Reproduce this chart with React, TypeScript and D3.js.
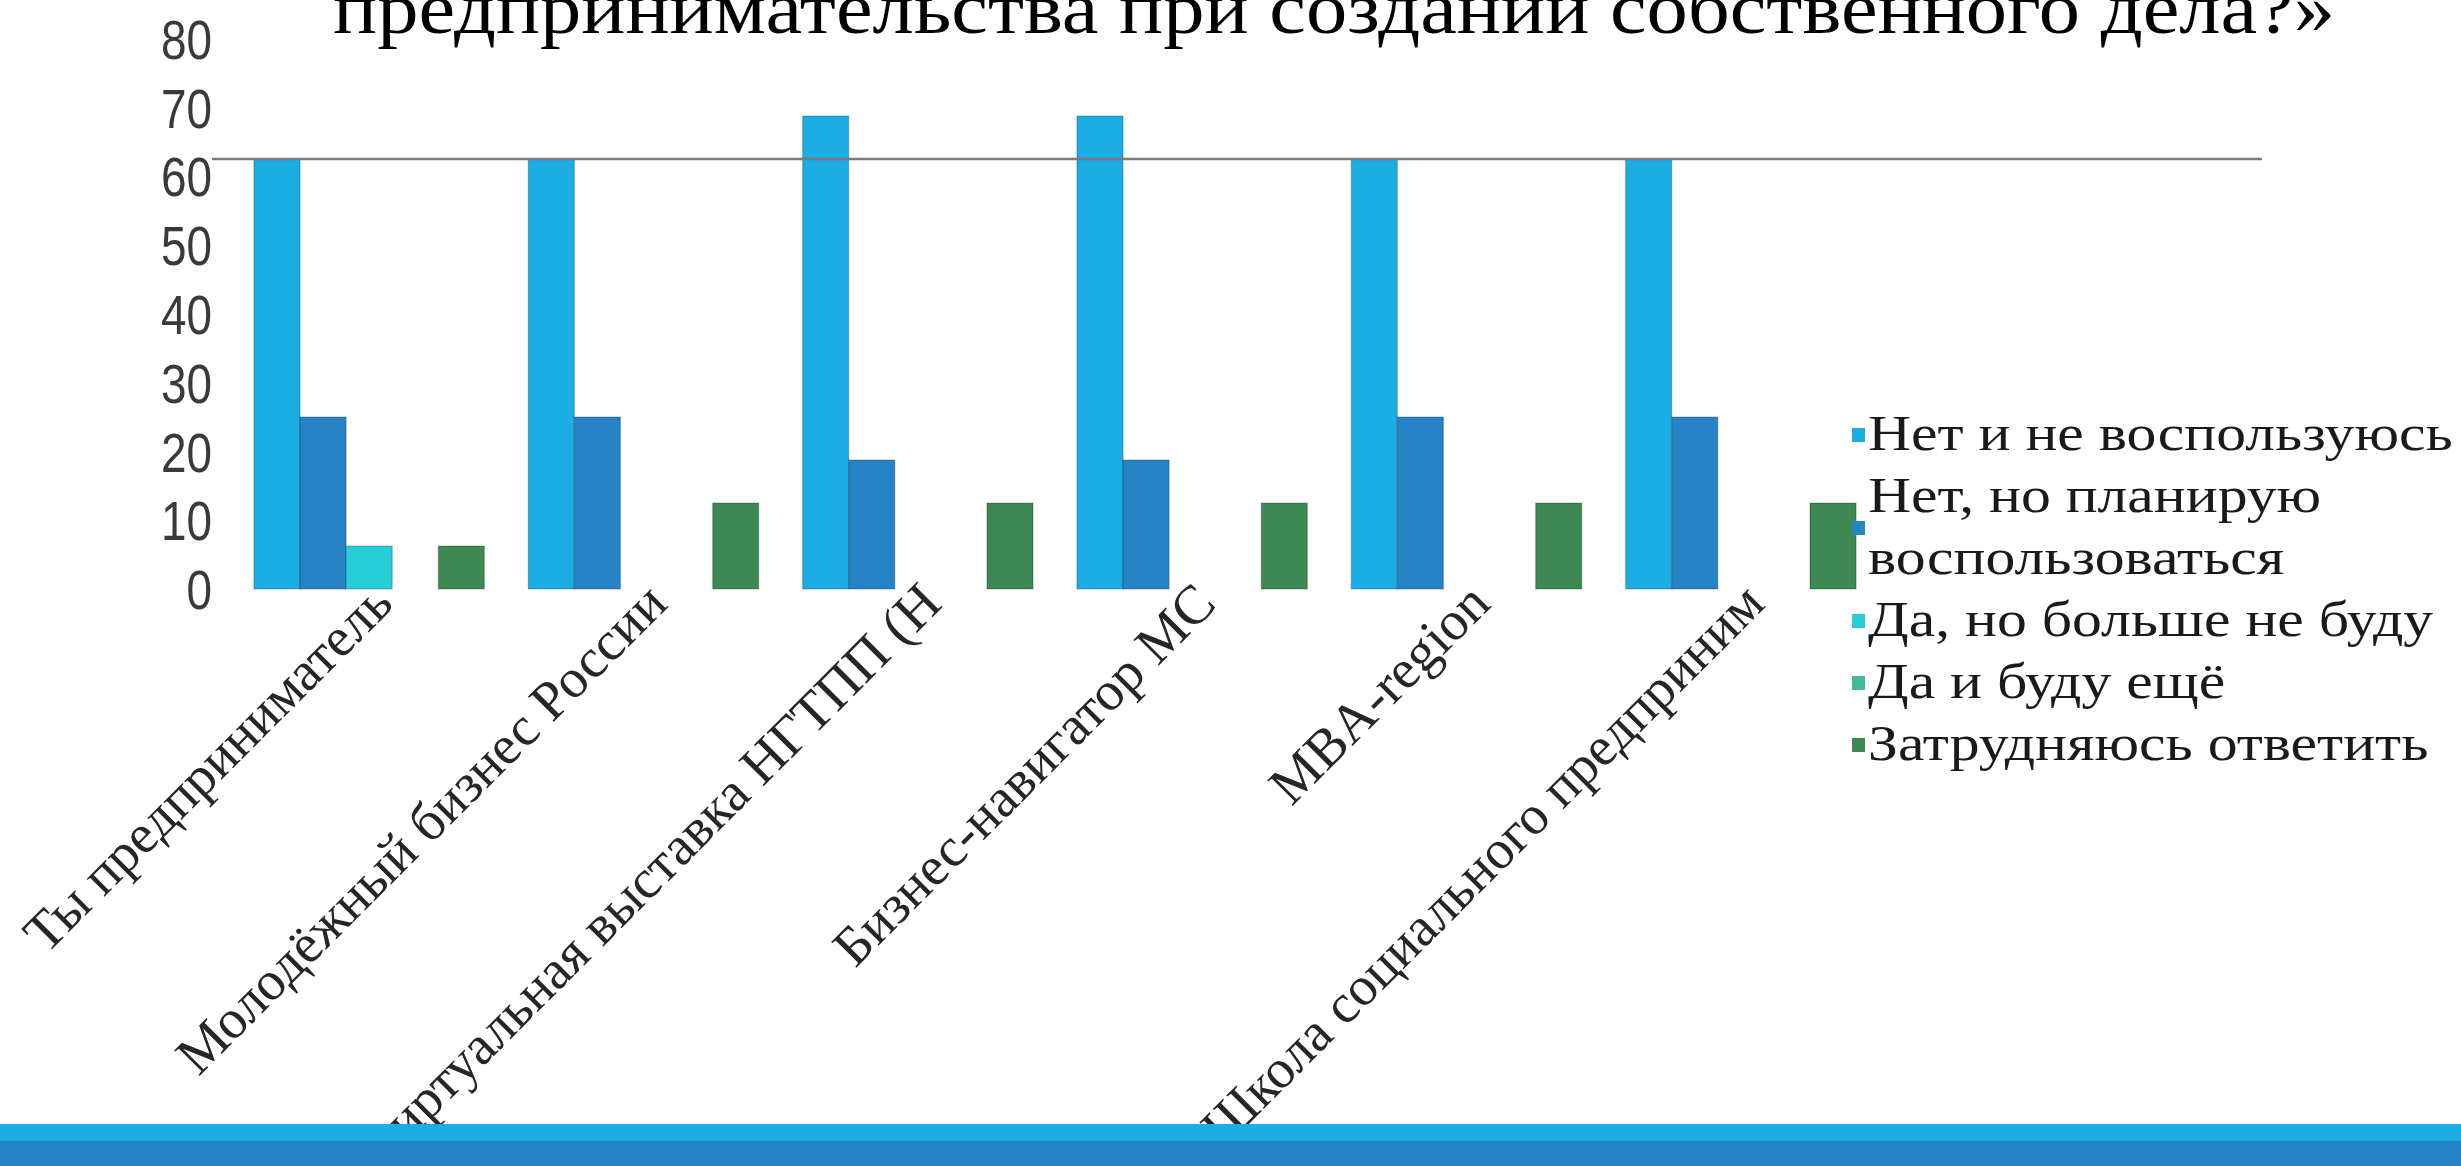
import React, { useEffect, useRef } from 'react';
import * as d3 from 'd3';

const categories = [
  'Ты предприниматель',
  'Молодёжный бизнес России',
  'Виртуальная выставка НГТПП (Н',
  'Бизнес-навигатор МС',
  'MBA-region',
  'Школа социального предприним',
];

const seriesNames = [
  'Нет и не воспользуюсь',
  'Нет, но планирую воспользоваться',
  'Да, но больше не буду',
  'Да и буду ещё',
  'Затрудняюсь ответить',
];

// legend wraps the second name on two lines
const legendLines = [
  ['Нет и не воспользуюсь'],
  ['Нет, но планирую', 'воспользоваться'],
  ['Да, но больше не буду'],
  ['Да и буду ещё'],
  ['Затрудняюсь ответить'],
];

const netNeVospolzuyus = [62.5, 62.5, 68.75, 68.75, 62.5, 62.5];
const netNoPlaniruyu = [25, 25, 18.75, 18.75, 25, 25];
const daBolsheNeBudu = [6.25, 0, 0, 0, 0, 0];
const daIBuduEshche = [0, 0, 0, 0, 0, 0];
const zatrudnyayus = [6.25, 12.5, 12.5, 12.5, 12.5, 12.5];

const yTicks = [0, 10, 20, 30, 40, 50, 60, 70, 80];

const colors = ['#1CADE4', '#2683C6', '#27CED7', '#42BA97', '#3E8853'];

const titleText = 'предпринимательства при создании собственного дела?»';

export default function App() {
  const ref = useRef<SVGSVGElement>(null);

  useEffect(() => {
    document.body.style.margin = '0';

    const width = 2461;
    const height = 1166;
    const margin = { left: 232, right: 583, top: 38.6, bottom: 577 };
    const serif = 'Liberation Serif, Times New Roman, serif';

    const svg = d3.select(ref.current);
    svg.selectAll('*').remove();

    const series = [netNeVospolzuyus, netNoPlaniruyu, daBolsheNeBudu, daIBuduEshche, zatrudnyayus];
    const data = categories.map((c, i) => ({
      category: c,
      values: series.map((s, j) => ({ key: seriesNames[j], value: s[i], color: colors[j] })),
    }));

    const defs = svg.append('defs');
    defs
      .append('filter')
      .attr('id', 'soft')
      .append('feGaussianBlur')
      .attr('stdDeviation', 0.9);

    const x0 = d3
      .scaleBand()
      .domain(categories)
      .range([margin.left, width - margin.right])
      .paddingInner(0.16)
      .paddingOuter(0.08);

    const x1 = d3.scaleBand().domain(seriesNames).range([0, x0.bandwidth()]);

    const yScale = d3
      .scaleLinear()
      .domain([0, 80])
      .range([height - margin.bottom, margin.top]);

    // gridlines
    svg
      .append('g')
      .selectAll('line')
      .data(yTicks)
      .enter()
      .append('line')
      .attr('x1', margin.left)
      .attr('x2', width - margin.right)
      .attr('y1', (d) => yScale(d))
      .attr('y2', (d) => yScale(d))
      .attr('stroke', '#bdbdbd')
      .attr('stroke-width', 4.5)
      .attr('filter', 'url(#soft)');

    // y labels, narrow and tall like the original
    svg
      .append('g')
      .selectAll('text')
      .data(yTicks)
      .enter()
      .append('text')
      .attr('transform', (d) => `translate(212, ${yScale(d)}) scale(0.82, 1)`)
      .attr('dy', '0.36em')
      .attr('text-anchor', 'end')
      .attr('font-family', 'Liberation Sans, Arial, sans-serif')
      .attr('font-size', 56)
      .attr('fill', '#3a3a3a')
      .text((d) => d);

    // bars
    const groups = svg
      .append('g')
      .selectAll('g')
      .data(data)
      .enter()
      .append('g')
      .attr('transform', (d) => `translate(${x0(d.category)},0)`);

    groups
      .selectAll('rect')
      .data((d) => d.values.filter((v) => v.value > 0))
      .enter()
      .append('rect')
      .attr('x', (d) => x1(d.key) as number)
      .attr('y', (d) => yScale(d.value))
      .attr('width', x1.bandwidth())
      .attr('height', (d) => yScale(0) - yScale(d.value))
      .attr('fill', (d) => d.color)
      .attr('stroke', 'rgba(0,0,0,0.18)')
      .attr('stroke-width', 1.5);

    // x labels
    svg
      .append('g')
      .selectAll('text')
      .data(categories)
      .enter()
      .append('text')
      .attr(
        'transform',
        (d) => `translate(${(x0(d) as number) + x0.bandwidth() / 2 + 26}, 606) rotate(-45)`,
      )
      .attr('text-anchor', 'end')
      .attr('font-family', serif)
      .attr('font-size', 55)
      .attr('fill', '#262626')
      .text((d) => d);

    // legend
    const legendTop = 450;
    const lineStep = 62;
    let line = 0;
    legendLines.forEach((lines, i) => {
      const baselines = lines.map((_, k) => legendTop + (line + k) * lineStep);
      line += lines.length;
      const mid = d3.mean(baselines) as number;
      svg
        .append('rect')
        .attr('x', 1852)
        .attr('y', mid - 22)
        .attr('width', 13)
        .attr('height', 14)
        .attr('fill', colors[i]);
      lines.forEach((t, k) => {
        svg
          .append('text')
          .attr('transform', `translate(1868, ${baselines[k]}) scale(1.17, 1)`)
          .attr('font-family', serif)
          .attr('font-size', 51)
          .attr('fill', '#1a1a1a')
          .text(t);
      });
    });

    // title fragment
    svg
      .append('text')
      .attr('transform', 'translate(333, 33) scale(1.115, 1)')
      .attr('font-family', serif)
      .attr('font-size', 74)
      .attr('fill', '#000')
      .text(titleText);

    // slide rule line
    svg
      .append('line')
      .attr('x1', 212)
      .attr('x2', 2262)
      .attr('y1', 159)
      .attr('y2', 159)
      .attr('stroke', '#7a7a7a')
      .attr('stroke-width', 2.5);

    // bottom bands
    svg
      .append('rect')
      .attr('x', 0)
      .attr('y', 1124)
      .attr('width', width)
      .attr('height', 17)
      .attr('fill', '#1CADE4');
    svg
      .append('rect')
      .attr('x', 0)
      .attr('y', 1141)
      .attr('width', width)
      .attr('height', 25)
      .attr('fill', '#2683C6');
  }, []);

  return <svg ref={ref} width={2461} height={1166} style={{ display: 'block' }} />;
}
